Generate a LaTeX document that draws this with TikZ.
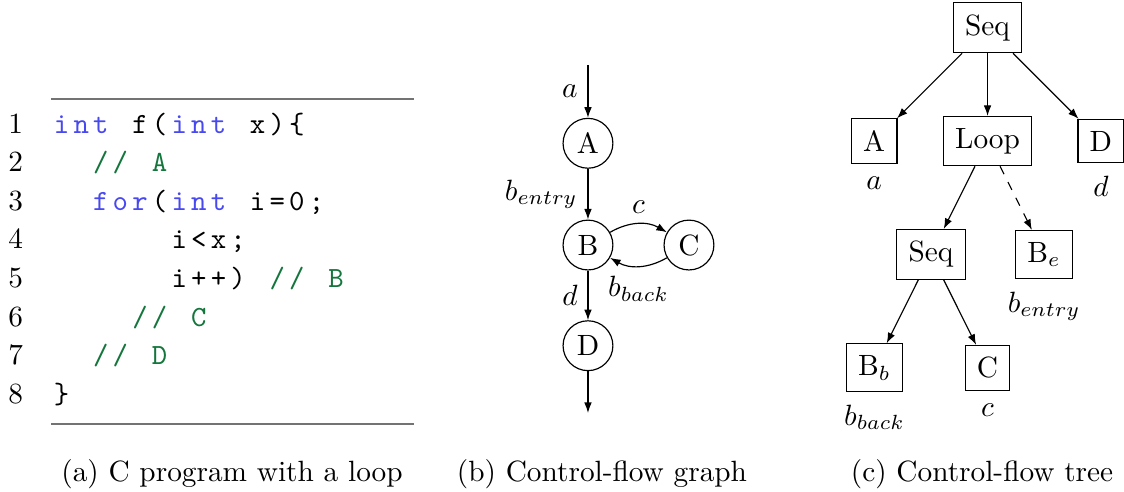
\documentclass[tikz,border=0pt]{standalone}
\usepackage{fontspec}
\usepackage{xcolor}
\usetikzlibrary{positioning,arrows.meta}

\definecolor{kwblue}{RGB}{72,72,240}
\definecolor{cmgreen}{RGB}{20,118,60}
\newcommand{\kw}[1]{\textcolor{kwblue}{#1}}
\newcommand{\cmt}[1]{\textcolor{cmgreen}{#1}}
% fixed columns for the listing, _ stands for a blank
\def\fixstop{\fixstop}
\newcommand{\fixcode}[1]{\fixstep#1\fixstop}
\def\fixstep#1{\ifx#1\fixstop\else\fixchar{#1}\expandafter\fixstep\fi}
\newcommand{\fixchar}[1]{\ifx#1_\hspace*{6.69pt}\else\makebox[6.69pt]{#1}\fi}

\begin{document}
\begin{tikzpicture}[>={Latex[length=3.6pt,width=2.6pt]},on grid,auto,
   block/.style={circle,draw,minimum size=17pt,inner sep=0pt},
   tnode/.style={rectangle,draw,inner sep=4pt},
   codeline/.style={anchor=base west,inner sep=0pt,font=\ttfamily},
   lnum/.style={anchor=base east,inner sep=0pt},
   caption/.style={anchor=base}]
   \useasboundingbox (0,0) rectangle (13.477,-5.899);

   % (a) the program
   \draw[black!55,line width=0.6pt] (0.612,-1.187) -- (4.964,-1.187);
   \draw[black!55,line width=0.6pt] (0.612,-5.084) -- (4.964,-5.084);
   \foreach \n/\c/\txt in {1/0/{\kw{\fixcode{int}}\fixcode{_f(}\kw{\fixcode{int}}\fixcode{_x)\{}},
                          2/2/{\cmt{\fixcode{//_A}}},
                          3/2/{\kw{\fixcode{for}}\fixcode{(}\kw{\fixcode{int}}\fixcode{_i=0;}},
                          4/6/{\fixcode{i<x;}},
                          5/6/{\fixcode{i++)_}\cmt{\fixcode{//_B}}},
                          6/4/{\cmt{\fixcode{//_C}}},
                          7/2/{\cmt{\fixcode{//_D}}},
                          8/0/{\fixcode{\}}}}{
      \node[lnum] (n\n) at (0.282,{-1.595-(\n-1)*0.4628}) {\n};
      \node[codeline] (l\n) at ({0.614+\c*0.2351},{-1.595-(\n-1)*0.4628}) {\txt};
   }
   \node[caption] (capa) at (2.782,-5.77) {(a) C program with a loop};

   % (b) the graph
   \node[block] (A) at (7.050,-1.718) {A};
   \coordinate[above=0.94cm of A] (start);
   \node[block] (B) [below=1.22cm of A] {B};
   \node[block] (C) [right=1.211cm of B] {C};
   \node[block] (D) [below=1.207cm of B] {D};
   \coordinate[below=0.807cm of D] (stop);

   \path[->]
   (start) edge node[left] {$a$} (A)
   (A) edge node[left] {$b_{entry}$} (B)
   (B) edge[bend left=30] node {$c$} (C)
   (C) edge[bend left=30] node {$b_{back}$} (B)
   (B) edge node[left] {$d$} (D)
   (D) edge (stop);
   \node[caption] (capb) at (7.218,-5.77) {(b) Control-flow graph};

   % (c) the tree
   \node[tnode] (seq) at (11.841,-0.333) {Seq};
   \node[tnode,label={[label distance=0.8pt]below:$a$}] (ta) [below left=1.359cm and 1.359cm of seq] {A};
   \node[tnode] (loop) [below=1.359cm of seq] {Loop};
   \node[tnode,label={[label distance=0.8pt]below:$d$}] (td) [below right=1.359cm and 1.359cm of seq] {D};
   \node[tnode] (seqb) [below left=1.359cm and 0.678cm of loop] {Seq};
   \node[tnode,label={[label distance=0.8pt]below:$b_{entry}$}] (be) [below right=1.359cm and 0.678cm of loop] {B$_e$};
   \node[tnode,label={[label distance=0.8pt]below:$b_{back}$}] (bb) [below left=1.359cm and 0.678cm of seqb] {B$_b$};
   \node[tnode,label={[label distance=0.8pt]below:$c$}] (tc) [below right=1.359cm and 0.678cm of seqb] {C};

   \path[->]
   (seq) edge (ta)
   (seq) edge (loop)
   (seq) edge (td)
   (loop) edge (seqb)
   (loop) edge[dashed] (be)
   (seqb) edge (bb)
   (seqb) edge (tc);
   \node[caption] (capc) at (11.775,-5.77) {(c) Control-flow tree};
\end{tikzpicture}
\end{document}
